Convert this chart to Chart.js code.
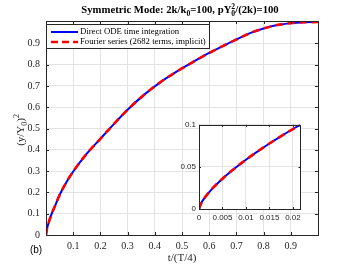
<!DOCTYPE html>
<html><head><meta charset="utf-8">
<script src="https://cdn.jsdelivr.net/npm/chart.js@4.4.1/dist/chart.umd.min.js"></script>
<style>
html,body{margin:0;padding:0;background:#fff;}
#wrap{position:relative;width:350px;height:264px;}
#main{position:absolute;left:0;top:0;}
#inset{position:absolute;left:175px;top:117px;}
</style></head>
<body>
<div id="wrap">
<canvas id="main" width="350" height="264"></canvas>
<canvas id="inset" width="130" height="108"></canvas>
</div>
<script>
// ---- data ----
const tMain = [0, 0.0025, 0.005, 0.01, 0.02, 0.035, 0.05, 0.075, 0.1, 0.15, 0.2, 0.24, 0.3, 0.36, 0.42, 0.48, 0.54, 0.6, 0.667, 0.7, 0.75, 0.8, 0.85, 0.9, 0.95, 1.0];
const yODE = [0, 0.022, 0.036, 0.059, 0.097, 0.142, 0.188, 0.248, 0.298, 0.382, 0.452, 0.508, 0.588, 0.658, 0.717, 0.767, 0.812, 0.855, 0.898, 0.918, 0.948, 0.97, 0.986, 0.995, 0.999, 1.0];
const yFourier = [0, 0.022, 0.036, 0.059, 0.097, 0.142, 0.188, 0.248, 0.298, 0.382, 0.452, 0.508, 0.588, 0.658, 0.717, 0.767, 0.812, 0.855, 0.898, 0.918, 0.948, 0.97, 0.986, 0.995, 0.999, 1.0];
const tInset = [0, 0.0005, 0.001, 0.0025, 0.005, 0.0075, 0.01, 0.0125, 0.015, 0.0175, 0.02, 0.0216];
const yInsetODE = [0, 0.0072, 0.0117, 0.0222, 0.036, 0.0478, 0.0585, 0.0684, 0.0778, 0.0866, 0.095, 0.1];
const yInsetFourier = [0, 0.0072, 0.0117, 0.0222, 0.036, 0.0478, 0.0585, 0.0684, 0.0778, 0.0866, 0.095, 0.1];
const xTicksMain = [0.1, 0.2, 0.3, 0.4, 0.5, 0.6, 0.7, 0.8, 0.9];
const yTicksMain = [0, 0.1, 0.2, 0.3, 0.4, 0.5, 0.6, 0.7, 0.8, 0.9];
const xTicksInset = [0, 0.005, 0.01, 0.015, 0.02];
const yTicksInset = [0, 0.05, 0.1];
const seriesNames = ['Direct ODE time integration', 'Fourier series (2682 terms, implicit)'];

const SERIF = '"Liberation Serif", "DejaVu Serif", serif';
const SANS = '"Liberation Sans", Arial, sans-serif';
const AX = '#262626';
const GRID = '#e3e3e3';
const BLUE = '#0000ff';
const RED = '#ff0000';

function pts(xs, ys){ return xs.map((x,i)=>({x:x, y:ys[i]})); }

function drawRich(ctx, parts, x, y, size, bold, family, align){
  const f = s => (bold?'bold ':'') + s + 'px ' + family;
  let w = 0;
  const meas = parts.map(p=>{
    if (p.type==='n'){ ctx.font=f(size); return ctx.measureText(p.t).width; }
    ctx.font=f(size*0.72);
    if (p.type==='subsup') return Math.max(ctx.measureText(p.t).width, ctx.measureText(p.s).width);
    return ctx.measureText(p.t).width;
  });
  meas.forEach(m=>w+=m);
  let cx = align==='center' ? x - w/2 : x;
  ctx.textBaseline='alphabetic'; ctx.textAlign='left';
  parts.forEach((p,i)=>{
    if (p.type==='n'){ ctx.font=f(size); ctx.fillText(p.t, cx, y); }
    else if (p.type==='sub'){ ctx.font=f(size*0.72); ctx.fillText(p.t, cx, y+size*0.3); }
    else if (p.type==='sup'){ ctx.font=f(size*0.72); ctx.fillText(p.t, cx, y-size*0.42); }
    else { ctx.font=f(size*0.72); ctx.fillText(p.s, cx, y-size*0.42); ctx.fillText(p.t, cx, y+size*0.3); }
    cx += meas[i];
  });
}

function boxAndTicks(chart, len){
  const {ctx, chartArea:a, scales} = chart;
  ctx.save();
  ctx.strokeStyle = AX; ctx.lineWidth = 1;
  ctx.beginPath();
  scales.x.ticks.forEach(t=>{
    const px = Math.round(scales.x.getPixelForValue(t.value))+0.5;
    ctx.moveTo(px, a.bottom); ctx.lineTo(px, a.bottom-len);
    ctx.moveTo(px, a.top); ctx.lineTo(px, a.top+len);
  });
  scales.y.ticks.forEach(t=>{
    const py = Math.round(scales.y.getPixelForValue(t.value))+0.5;
    ctx.moveTo(a.left, py); ctx.lineTo(a.left+len, py);
    ctx.moveTo(a.right, py); ctx.lineTo(a.right-len, py);
  });
  ctx.stroke();
  ctx.strokeRect(Math.round(a.left)+0.5, Math.round(a.top)+0.5, Math.round(a.right-a.left), Math.round(a.bottom-a.top));
  ctx.restore();
}

const mainDeco = {
  id:'mainDeco',
  afterDraw(chart){
    const ctx = chart.ctx;
    boxAndTicks(chart, 3);
    ctx.save();
    ctx.fillStyle = '#000';
    drawRich(ctx, [
      {type:'n', t:'Symmetric Mode: 2k/k'}, {type:'sub', t:'0'},
      {type:'n', t:'=100, pY'}, {type:'subsup', t:'0', s:'2'},
      {type:'n', t:'/(2k)=100'}], 180, 13, 10.7, true, SERIF, 'center');
    ctx.fillStyle = '#262626';
    drawRich(ctx, [{type:'n', t:'t/(T/4)'}], 182, 261, 11, false, SERIF, 'center');
    ctx.save();
    ctx.translate(24, 130); ctx.rotate(-Math.PI/2);
    drawRich(ctx, [{type:'n', t:'(y/Y'}, {type:'sub', t:'0'}, {type:'n', t:')'}, {type:'sup', t:'2'}], 0, 0, 11, false, SERIF, 'center');
    ctx.restore();
    ctx.fillStyle = '#000';
    ctx.font = '10px ' + SANS; ctx.textAlign='center'; ctx.textBaseline='middle';
    ctx.fillText('(b)', 36, 250);
    // legend
    const lx = 46.5, ly = 24.5, lw = 163, lh = 24;
    ctx.fillStyle = '#fff'; ctx.fillRect(lx, ly, lw, lh);
    ctx.strokeStyle = AX; ctx.lineWidth = 1; ctx.strokeRect(lx, ly, lw, lh);
    const ds = chart.data.datasets;
    ctx.lineWidth = 2; ctx.strokeStyle = ds[0].borderColor; ctx.setLineDash([]);
    ctx.beginPath(); ctx.moveTo(51, 32); ctx.lineTo(78, 32); ctx.stroke();
    ctx.lineWidth = 2.6; ctx.strokeStyle = ds[1].borderColor; ctx.setLineDash([7,4]);
    ctx.beginPath(); ctx.moveTo(51, 42); ctx.lineTo(78, 42); ctx.stroke();
    ctx.setLineDash([]);
    ctx.fillStyle = '#000'; ctx.font = '8.7px ' + SERIF; ctx.textAlign='left'; ctx.textBaseline='middle';
    ctx.fillText(ds[0].label, 80, 32);
    ctx.fillText(ds[1].label, 80, 42);
    ctx.restore();
  }
};

new Chart(document.getElementById('main'), {
  type:'scatter',
  data:{ datasets:[
    {label:seriesNames[0], data:pts(tMain, yODE), showLine:true, borderColor:BLUE, borderWidth:2, pointRadius:0, cubicInterpolationMode:'monotone', order:1},
    {label:seriesNames[1], data:pts(tMain, yFourier), showLine:true, borderColor:RED, borderWidth:2.6, borderDash:[7,5], pointRadius:0, cubicInterpolationMode:'monotone', order:0}
  ]},
  options:{
    responsive:false, animation:false, devicePixelRatio:1,
    layout:{padding:{left:0, right:32, top:21, bottom:0}},
    plugins:{legend:{display:false}, title:{display:false}, tooltip:{enabled:false}},
    scales:{
      x:{type:'linear', min:0, max:1,
        afterBuildTicks: s => { s.ticks = xTicksMain.map(v=>({value:v})); },
        afterFit: s => { s.height = 29; },
        grid:{color:GRID, drawTicks:false}, border:{display:false},
        ticks:{color:AX, font:{family:SERIF, size:10}, padding:5, maxRotation:0, callback:v=>String(v)}},
      y:{type:'linear', min:0, max:1.005,
        afterBuildTicks: s => { s.ticks = yTicksMain.map(v=>({value:v})); },
        afterFit: s => { s.width = 46; },
        grid:{color:GRID, drawTicks:false}, border:{display:false},
        ticks:{color:AX, font:{family:SERIF, size:10}, padding:6, callback:v=>String(v)}}
    }
  },
  plugins:[mainDeco]
});

const insetDeco = {
  id:'insetDeco',
  beforeDraw(chart){
    const {ctx, chartArea:a} = chart;
    ctx.save(); ctx.fillStyle='#fff'; ctx.fillRect(a.left, a.top, a.right-a.left, a.bottom-a.top); ctx.restore();
  },
  afterDraw(chart){ boxAndTicks(chart, 2); }
};

new Chart(document.getElementById('inset'), {
  type:'scatter',
  data:{ datasets:[
    {label:seriesNames[0], data:pts(tInset, yInsetODE), showLine:true, borderColor:BLUE, borderWidth:2, pointRadius:0, cubicInterpolationMode:'monotone', order:1},
    {label:seriesNames[1], data:pts(tInset, yInsetFourier), showLine:true, borderColor:RED, borderWidth:2.6, borderDash:[7,5], pointRadius:0, cubicInterpolationMode:'monotone', order:0}
  ]},
  options:{
    responsive:false, animation:false, devicePixelRatio:1,
    layout:{padding:{left:0, right:4, top:5, bottom:0}},
    plugins:{legend:{display:false}, title:{display:false}, tooltip:{enabled:false}},
    scales:{
      x:{type:'linear', min:0, max:0.0216,
        afterBuildTicks: s => { s.ticks = xTicksInset.map(v=>({value:v})); },
        afterFit: s => { s.height = 16; },
        grid:{color:GRID, drawTicks:false}, border:{display:false},
        ticks:{color:AX, font:{family:SANS, size:8}, padding:4, maxRotation:0, callback:v=>String(v)}},
      y:{type:'linear', min:0, max:0.1,
        afterBuildTicks: s => { s.ticks = yTicksInset.map(v=>({value:v})); },
        afterFit: s => { s.width = 24; },
        grid:{color:GRID, drawTicks:false}, border:{display:false},
        ticks:{color:AX, font:{family:SANS, size:8}, padding:3, callback:v=>String(v)}}
    }
  },
  plugins:[insetDeco]
});
</script>
</body></html>
